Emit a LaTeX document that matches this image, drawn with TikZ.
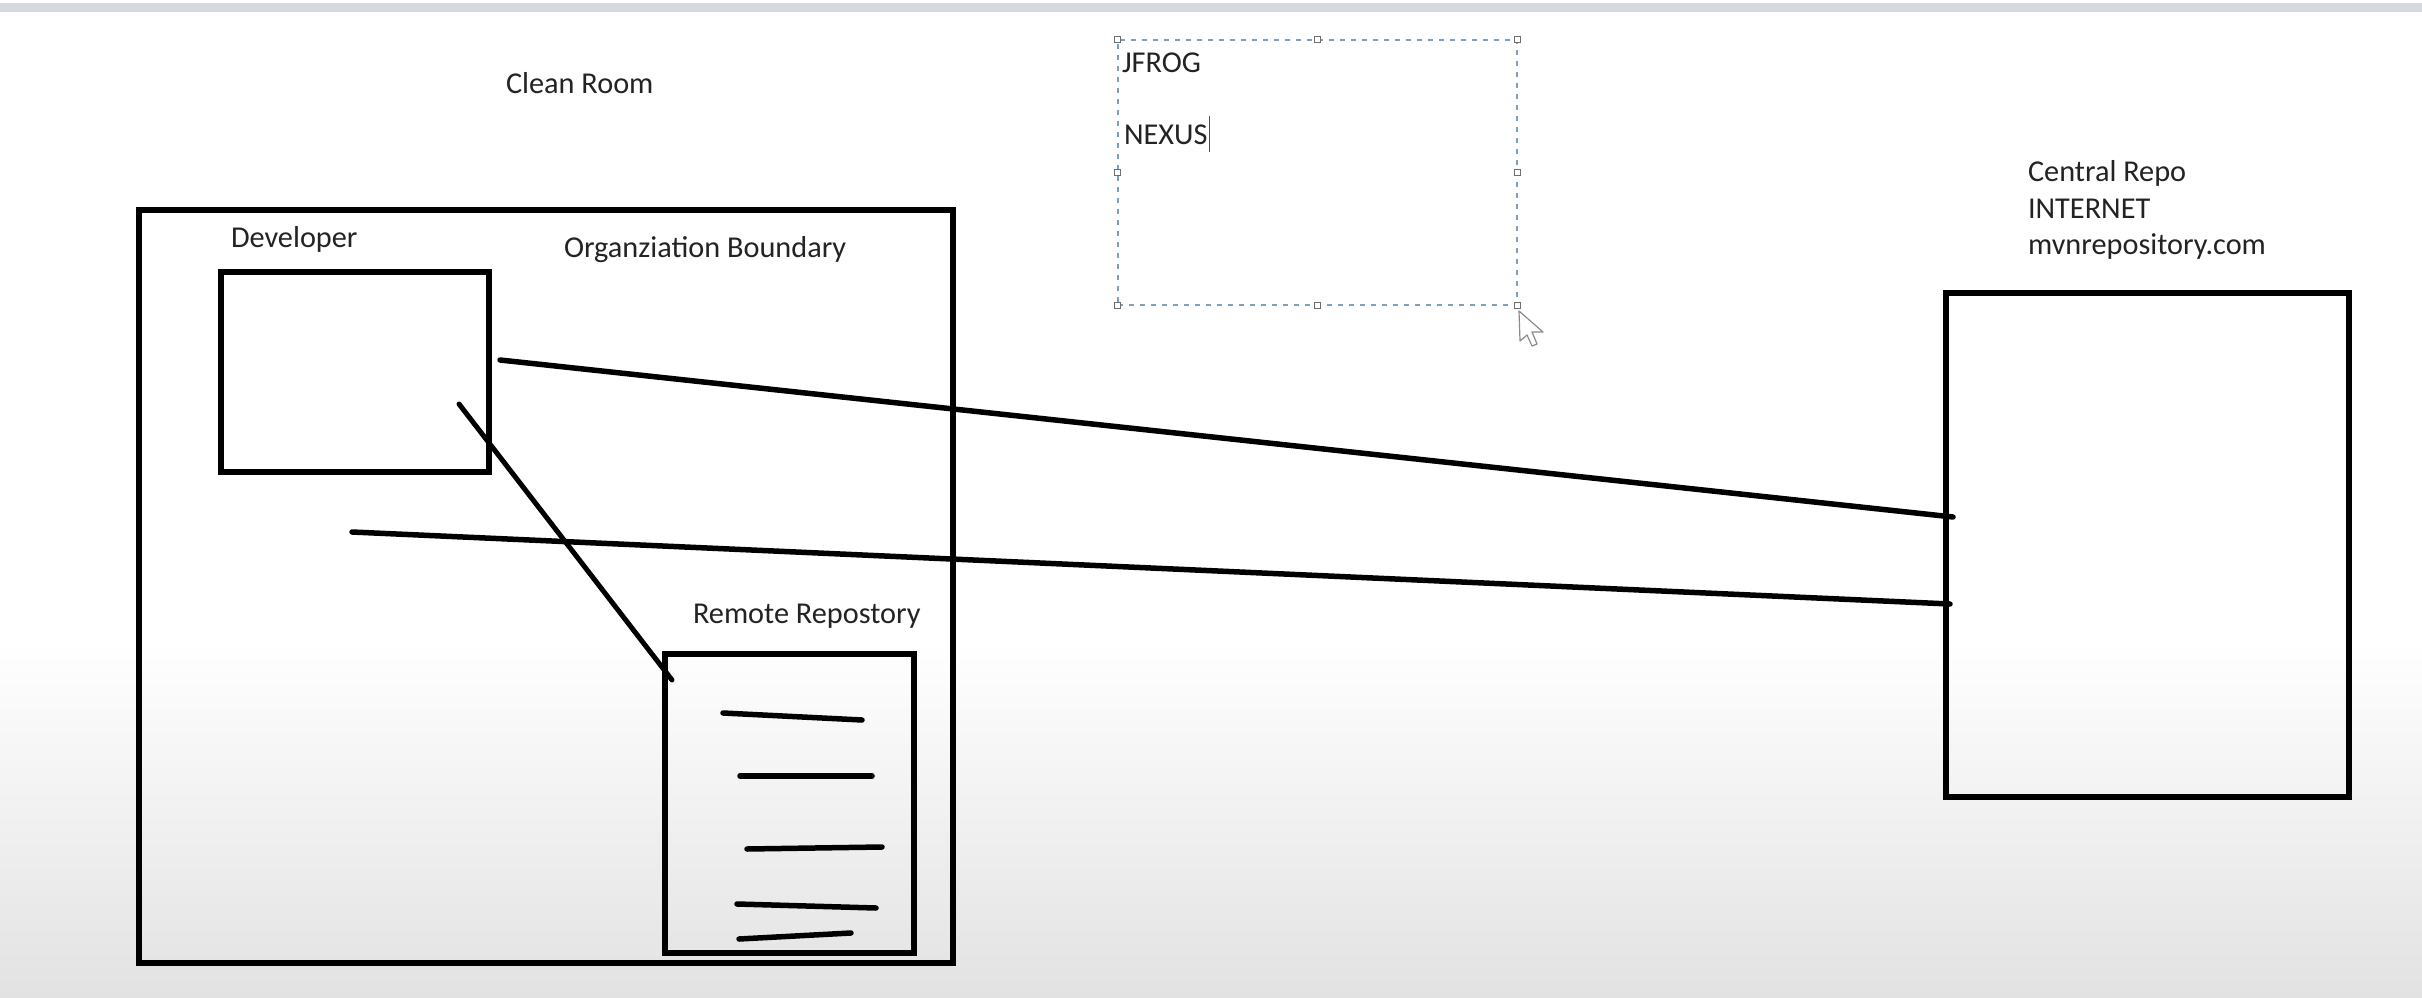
\documentclass[tikz,border=0pt]{standalone}
\usepackage{fontspec}
\setmainfont{Carlito}
\definecolor{txt}{RGB}{35,35,35}
\definecolor{barcol}{RGB}{214,217,224}
\definecolor{bgbot}{RGB}{226,226,226}
\definecolor{selblue}{RGB}{125,160,192}
\definecolor{hgray}{RGB}{110,110,110}
\begin{document}
\begin{tikzpicture}[x=1pt,y=-1pt,
  box/.style={draw=black,line width=6pt,inner sep=0pt,outer sep=0pt,rectangle},
  stroke/.style={line width=5.5pt,line cap=round,draw=black},
  lbl/.style={anchor=base west,inner sep=0pt,outer sep=0pt,font=\fontsize{30.3}{36}\selectfont,text=txt},
  handle/.style={draw=hgray,fill=white,line width=1.2pt,minimum size=6pt,inner sep=0pt,rectangle}]
\useasboundingbox (0,0) rectangle (2422,998);
\fill[white] (0,0) rectangle (2422,998);
\shade[top color=white,bottom color=bgbot] (0,640) rectangle (2422,998);
\fill[barcol] (0,3) rectangle (2422,12);

% boxes
\node[box,minimum width=813.5pt,minimum height=753pt] (org) at (545.75,586.5) {};
\node[box,minimum width=268pt,minimum height=199.5pt] (dev) at (354.5,371.75) {};
\node[box,minimum width=249pt,minimum height=298.5pt] (remote) at (789.5,803.25) {};
\node[box,minimum width=402.5pt,minimum height=504pt] (central) at (2147.25,545) {};

% labels
\node[lbl] (cleanroom) at (506,93) {Clean Room};
\node[lbl] (devlbl) at (231,247) {Developer};
\node[lbl] (orglbl) at (564,257) {Organziation Boundary};
\node[lbl] (remotelbl) at (693,623) {Remote Repostory};
\node[lbl] (centrallbl1) at (2028,181) {Central Repo};
\node[lbl] (centrallbl2) at (2028,218) {INTERNET};
\node[lbl] (centrallbl3) at (2028,254) {mvnrepository.com};

% selected text box
\node[draw=selblue,line width=1.4pt,dash pattern=on 5pt off 6pt,rectangle,inner sep=0pt,
      minimum width=399pt,minimum height=265pt] (sel) at (1317.5,172.5) {};
\node[lbl] (jfrog) at (1122,72) {JFROG};
\node[lbl] (nexus) at (1124,144) {NEXUS};
\coordinate (caretTop) at ([xshift=2pt,yshift=28pt]nexus.base east);
\coordinate (caretBot) at ([xshift=2pt,yshift=-8pt]nexus.base east);
\draw[txt!80,line width=1.5pt] (caretTop) -- (caretBot);
\foreach \a in {north west,north,north east,east,south east,south,south west,west}
  \node[handle] at (sel.\a) {};

% mouse pointer
\coordinate (tip) at (1519,311);
\draw[hgray!80,fill=white,line width=1.2pt,line join=round]
  (tip) -- ++(1,30) -- ++(7,-6) -- ++(5,11) -- ++(5,-2) -- ++(-5,-12) -- ++(11,0) -- cycle;

% connectors
\coordinate (d1) at (500,360);
\coordinate (c1) at (1953,517);
\coordinate (d2) at (352,532);
\coordinate (c2) at (1950,604);
\coordinate (d3) at (459,404);
\coordinate (r3) at (672,680);
\draw[stroke] (d1) -- (c1);
\draw[stroke] (d2) -- (c2);
\draw[stroke,line width=5pt] (d3) -- (r3);

% scribbles inside remote repository
\draw[stroke] (723,713) -- (862,720);
\draw[stroke] (740,776) -- (872,776);
\draw[stroke] (747,849) -- (882,847);
\draw[stroke] (737,904) -- (876,908);
\draw[stroke] (739,939) -- (851,933);
\end{tikzpicture}
\end{document}
